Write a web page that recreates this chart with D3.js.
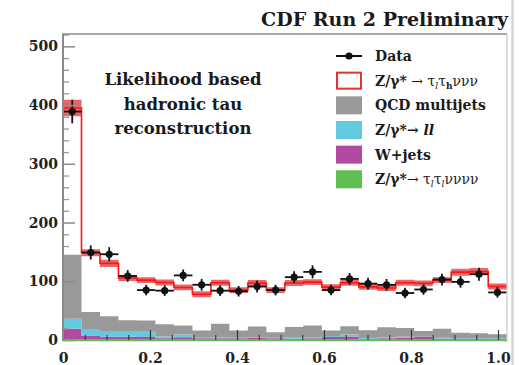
<!DOCTYPE html>
<html>
<head>
<meta charset="utf-8">
<script src="https://cdn.jsdelivr.net/npm/d3@7"></script>
<style>
  html, body { margin: 0; padding: 0; background: #fff; }
  svg { display: block; }
  text { font-family: "DejaVu Serif", serif; }
</style>
</head>
<body>
<svg id="chart" width="523" height="365"></svg>
<script>
// Histogram binning
const xMin = 0, xMax = 1.02, nBins = 24;

// Observed events per bin and their uncertainties
const dataCounts = [389, 149, 146, 109, 85, 84, 110, 94, 84, 83, 91, 85, 107, 116, 85, 104, 96, 94, 80, 86, 103, 99, 112, 81];
const dataErrors = [20, 12, 12, 10, 9, 9, 10, 10, 9, 9, 10, 9, 10, 11, 9, 10, 10, 10, 9, 9, 10, 10, 11, 9];

// Expected contributions per bin
const zttLepHad = [250, 101, 90, 72, 69, 71, 65, 62, 70, 69, 74, 72, 75, 74, 74, 74, 74, 67, 77, 81, 83, 103, 105, 81];
const qcdMultijet = [109, 30, 25, 18, 19, 21, 15, 11, 23, 12, 18, 8, 17, 20, 9, 14, 13, 17, 15, 10, 15, 9, 8, 7];
const zll = [17, 10, 10, 10, 9, 3, 5, 2, 1.5, 1, 1, 2, 3, 1.5, 2, 3.5, 1.5, 1.5, 1.5, 0.5, 1.5, 1, 1, 1];
const wJets = [17.5, 6, 4, 4, 3.5, 1.5, 3, 1.5, 1.5, 1.5, 2.5, 1.5, 0.5, 1.5, 3.5, 4.5, 0.5, 1.5, 2.5, 3.5, 1, 1, 1, 0.5];
const zttLepLep = [1.5, 1.5, 1.5, 1.5, 1.5, 1.5, 1.5, 1.5, 1.5, 1.5, 1.5, 1.5, 1.5, 1.5, 1.5, 1.5, 1.5, 1.5, 1.5, 1.5, 1.5, 1.5, 1.5, 1.5];
// Uncertainty on the total expectation
const mcUnc = [14, 6, 6, 5, 5, 5, 5, 5, 5, 5, 5, 5, 5, 5, 5, 5, 5, 5, 5, 5, 5, 6, 6, 5];

// Axis ticks
const yMajorTicks = [0, 100, 200, 300, 400, 500];
const xMajorTicks = [0, 0.2, 0.4, 0.6, 0.8, 1.0];
const xTickLabels = ["0", "0.2", "0.4", "0.6", "0.8", "1.0"];

const legendLabels = ["Data", "signal", "QCD multijets", "zll", "W+jets", "ztt_ll"];

const colors = {
  zttLepLep: "#5fbf55",
  wJets: "#b24aa2",
  zll: "#63c9de",
  qcdMultijet: "#999999",
  signal: "#ff1414",
  band: "#d9282c"
};

const svg = d3.select("#chart");
svg.append("rect").attr("width", 523).attr("height", 365).attr("fill", "#fff");

const x = d3.scaleLinear().domain([xMin, xMax]).range([63, 506.7]);
const y = d3.scaleLinear().domain([0, 521]).range([340, 34]);

const binW = (xMax - xMin) / nBins;
const binLo = d3.range(nBins).map(i => xMin + i * binW);

// Table of per-bin contributions for the stack (bottom to top)
const keys = ["zttLepLep", "wJets", "zll", "qcdMultijet"];
const table = binLo.map((lo, i) => ({
  lo,
  zttLepLep: zttLepLep[i],
  wJets: wJets[i],
  zll: zll[i],
  qcdMultijet: qcdMultijet[i],
  signal: zttLepHad[i]
}));
const series = d3.stack().keys(keys)(table);

// Append a closing point at the upper edge so step curves cover the last bin
function withEnd(arr) {
  const last = arr[arr.length - 1];
  return arr.concat([{ ...last, xEnd: true }]);
}
const xOf = (d, i) => d.xEnd ? x(xMax) : x(binLo[i]);

const gStack = svg.append("g");
series.forEach(s => {
  const pts = withEnd(s.map((d, i) => ({ y0: d[0], y1: d[1] })));
  const area = d3.area()
    .curve(d3.curveStepAfter)
    .x((d, i) => i === pts.length - 1 ? x(xMax) : x(binLo[i]))
    .y0(d => y(d.y0))
    .y1(d => y(d.y1));
  gStack.append("path").attr("d", area(pts)).attr("fill", colors[s.key]);
});

// Total expectation = background stack + signal
const totals = table.map((d, i) => keys.reduce((a, k) => a + d[k], 0) + d.signal);
const totPts = withEnd(totals.map((t, i) => ({ t, u: mcUnc[i] })));
const stepX = (d, i) => i === totPts.length - 1 ? x(xMax) : x(binLo[i]);

svg.append("path")
  .attr("d", d3.area().curve(d3.curveStepAfter).x(stepX)
    .y0(d => y(d.t - d.u)).y1(d => y(d.t + d.u))(totPts))
  .attr("fill", colors.band).attr("fill-opacity", 0.7);

svg.append("path")
  .attr("d", d3.line().curve(d3.curveStepAfter).x(stepX).y(d => y(d.t))(totPts))
  .attr("fill", "none").attr("stroke", colors.signal).attr("stroke-width", 1.6);

// Data points with error bars
const gData = svg.append("g");
dataCounts.forEach((v, i) => {
  const cx = x(binLo[i] + binW / 2);
  gData.append("line")
    .attr("x1", x(binLo[i])).attr("x2", x(binLo[i] + binW))
    .attr("y1", y(v)).attr("y2", y(v))
    .attr("stroke", "#111").attr("stroke-width", 1.8);
  gData.append("line")
    .attr("x1", cx).attr("x2", cx)
    .attr("y1", y(v - dataErrors[i])).attr("y2", y(v + dataErrors[i]))
    .attr("stroke", "#111").attr("stroke-width", 1.8);
  gData.append("circle").attr("cx", cx).attr("cy", y(v)).attr("r", 3.6).attr("fill", "#111");
});

// Frame
svg.append("line").attr("x1", 63).attr("x2", 507).attr("y1", 34).attr("y2", 34)
  .attr("stroke", "#8a8a8a").attr("stroke-width", 1.5);
svg.append("line").attr("x1", 507).attr("x2", 507).attr("y1", 34).attr("y2", 341)
  .attr("stroke", "#c8c8c8").attr("stroke-width", 1.2);
svg.append("line").attr("x1", 512.5).attr("x2", 512.5).attr("y1", 0).attr("y2", 365)
  .attr("stroke", "#d4d4d4").attr("stroke-width", 2.5);

// Y axis: minor ticks every 20, major every 100
const yMinor = svg.append("g").attr("transform", "translate(63,0)")
  .call(d3.axisLeft(y).tickValues(d3.range(0, 521, 20).filter(v => v % 100 !== 0))
    .tickSizeInner(-6).tickSizeOuter(0).tickFormat(""));
yMinor.select(".domain").remove();
yMinor.selectAll("line").attr("stroke", "#9a9a9a").attr("stroke-width", 1.3);

const yAxis = svg.append("g").attr("transform", "translate(63,0)")
  .call(d3.axisLeft(y).tickValues(yMajorTicks).tickSizeInner(-12).tickSizeOuter(0).tickPadding(5));
yAxis.select(".domain").remove();
yAxis.selectAll("line").attr("stroke", "#8a8a8a").attr("stroke-width", 1.5);
yAxis.selectAll("text").attr("font-family", "DejaVu Serif").attr("font-weight", "bold")
  .attr("font-size", 14).attr("fill", "#222");

// X axis: minor ticks every 0.05, major every 0.2
const xMinor = svg.append("g").attr("transform", "translate(0,340)")
  .call(d3.axisBottom(x).tickValues(d3.range(1, 21).map(i => i * 0.05).filter((v, i) => (i + 1) % 4 !== 0))
    .tickSizeInner(-5).tickSizeOuter(0).tickFormat(""));
xMinor.select(".domain").remove();
xMinor.selectAll("line").attr("stroke", "#333").attr("stroke-width", 1.1);

const xAxis = svg.append("g").attr("transform", "translate(0,340)")
  .call(d3.axisBottom(x).tickValues(xMajorTicks).tickSizeInner(-10).tickSizeOuter(0).tickPadding(13)
    .tickFormat((d, i) => xTickLabels[i]));
xAxis.select(".domain").remove();
xAxis.selectAll("line").attr("stroke", "#333").attr("stroke-width", 1.2);
xAxis.selectAll("text").attr("font-family", "DejaVu Serif").attr("font-weight", "bold")
  .attr("font-size", 14).attr("fill", "#222");

// Axis lines
svg.append("line").attr("x1", 63).attr("x2", 63).attr("y1", 33.5).attr("y2", 341)
  .attr("stroke", "#8a8a8a").attr("stroke-width", 2);
svg.append("line").attr("x1", 62).attr("x2", 507).attr("y1", 340.6).attr("y2", 340.6)
  .attr("stroke", colors.zttLepLep).attr("stroke-width", 1.2);

// Title
svg.append("text").attr("x", 508).attr("y", 26).attr("text-anchor", "end")
  .attr("font-size", 19).attr("font-weight", "bold").attr("fill", "#1a1a1a")
  .text("CDF Run 2 Preliminary");

// Annotation
const note = ["Likelihood based", "hadronic tau", "reconstruction"];
svg.append("g").selectAll("text").data(note).join("text")
  .attr("x", 183).attr("y", (d, i) => 85 + i * 24.5)
  .attr("text-anchor", "middle").attr("font-size", 16.5).attr("font-weight", "bold")
  .attr("fill", "#1a1a1a").text(d => d);

// Legend
const lg = svg.append("g");
const rowY = i => 56 + i * 24.66;
const boxX = 336, boxW = 26, boxH = 18, textX = 375;

lg.append("line").attr("x1", boxX).attr("x2", boxX + boxW).attr("y1", rowY(0)).attr("y2", rowY(0))
  .attr("stroke", "#111").attr("stroke-width", 2);
lg.append("circle").attr("cx", boxX + boxW / 2).attr("cy", rowY(0)).attr("r", 3.6).attr("fill", "#111");

lg.append("rect").attr("x", boxX + 1).attr("y", rowY(1) - boxH / 2 + 1).attr("width", boxW - 2).attr("height", boxH - 2)
  .attr("fill", "#fff").attr("stroke", "#e8302c").attr("stroke-width", 2);
[["qcdMultijet", 2], ["zll", 3], ["wJets", 4], ["zttLepLep", 5]].forEach(([k, r]) => {
  lg.append("rect").attr("x", boxX).attr("y", rowY(r) - boxH / 2).attr("width", boxW).attr("height", boxH)
    .attr("fill", colors[k]);
});

function legendText(row) {
  return lg.append("text").attr("x", textX).attr("y", rowY(row)).attr("dy", "0.36em")
    .attr("font-size", 14).attr("fill", "#1a1a1a");
}
function sub(t, txt, weight, style) {
  t.append("tspan").attr("dy", 3).attr("font-size", 9)
    .attr("font-weight", weight || "normal").attr("font-style", style || "normal").text(txt);
}
function back(t, txt) {
  t.append("tspan").attr("dy", -3).text(txt);
}

legendText(0).attr("font-weight", "bold").text(legendLabels[0]);

const t1 = legendText(1);
t1.append("tspan").attr("font-weight", "bold").text("Z/γ*");
t1.append("tspan").text(" → τ");
sub(t1, "l", "normal", "italic");
back(t1, "τ");
sub(t1, "h", "bold");
back(t1, "ννν");

legendText(2).attr("font-weight", "bold").text(legendLabels[2]);

const t3 = legendText(3);
t3.append("tspan").attr("font-weight", "bold").text("Z/γ*→ ");
t3.append("tspan").attr("font-weight", "bold").attr("font-style", "italic").text("ll");

legendText(4).attr("font-weight", "bold").text(legendLabels[4]);

const t5 = legendText(5);
t5.append("tspan").attr("font-weight", "bold").text("Z/γ*");
t5.append("tspan").text("→ τ");
sub(t5, "l", "normal", "italic");
back(t5, "τ");
sub(t5, "l", "normal", "italic");
back(t5, "νννν");
</script>
</body>
</html>
